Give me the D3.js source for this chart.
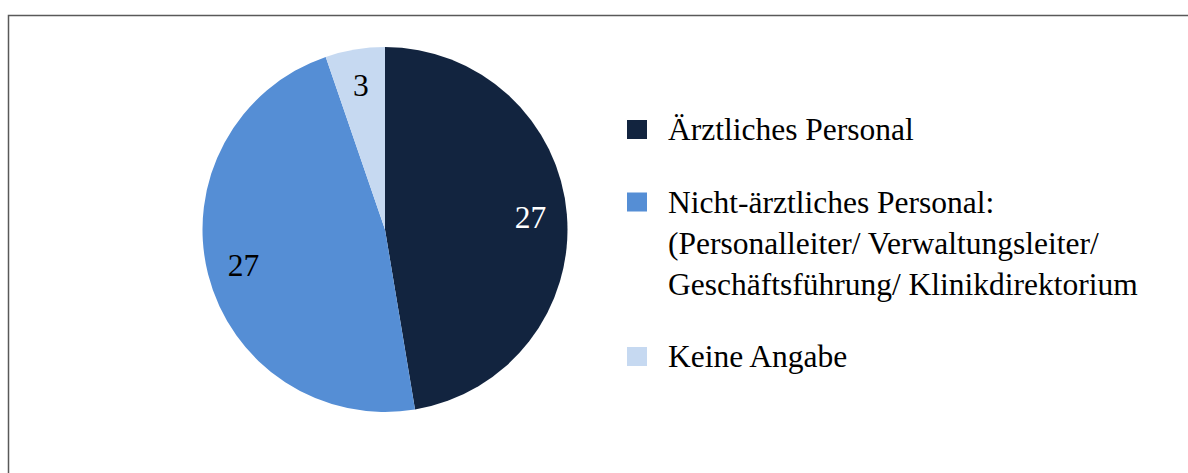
<!DOCTYPE html>
<html>
<head>
<meta charset="utf-8">
<script src="https://cdn.jsdelivr.net/npm/d3@7"></script>
<style>
  html, body { margin: 0; padding: 0; background: #fff; }
  svg { display: block; }
</style>
</head>
<body>
<svg id="chart" width="1188" height="473"></svg>
<script>
// ---- data ----
const categories = ["Ärztliches Personal", "Nicht-ärztliches Personal", "Keine Angabe"];
const values = [27, 27, 3];
const colors = ["#12243F", "#558ED5", "#C6D9F1"];
const labelColors = ["#FFFFFF", "#000000", "#000000"];
const legendLines = [
  ["Ärztliches Personal"],
  ["Nicht-ärztliches Personal:", "(Personalleiter/ Verwaltungsleiter/", "Geschäftsführung/ Klinikdirektorium"],
  ["Keine Angabe"]
];

// ---- layout ----
const W = 1188, H = 473;
const svg = d3.select("#chart");
const font = "'Liberation Serif', 'Times New Roman', serif";
const fontSize = 31.5;

// frame (only left and top edges visible)
svg.append("rect")
  .attr("x", 8.5).attr("y", 15.5)
  .attr("width", 1300).attr("height", 1000)
  .attr("fill", "none").attr("stroke", "#595959").attr("stroke-width", 1.5);

const cx = 385, cy = 229.5, r = 182.5;
const g = svg.append("g").attr("transform", `translate(${cx},${cy})`);

const pie = d3.pie().sort(null).value(d => d)(values);
const arc = d3.arc().innerRadius(0).outerRadius(r);
const labelArc = d3.arc().innerRadius(r * 0.8).outerRadius(r * 0.8);

g.selectAll("path.slice").data(pie).enter().append("path")
  .attr("class", "slice")
  .attr("d", arc)
  .attr("fill", (d, i) => colors[i]);

g.selectAll("text.lbl").data(pie).enter().append("text")
  .attr("class", "lbl")
  .attr("transform", d => `translate(${labelArc.centroid(d)})`)
  .attr("text-anchor", "middle")
  .attr("dy", "0.34em")
  .attr("font-family", font)
  .attr("font-size", fontSize)
  .attr("fill", (d, i) => labelColors[i])
  .text(d => d.data);

// legend
const legX = 627, textX = 668, sw = 20, sh = 19;
const lineH = 41, itemGap = 31.5;
let y = 140;
const leg = svg.append("g");
legendLines.forEach((lines, i) => {
  leg.append("rect")
    .attr("x", legX).attr("y", y - sh - 1)
    .attr("width", sw).attr("height", sh)
    .attr("fill", colors[i]);
  lines.forEach((t, j) => {
    leg.append("text")
      .attr("x", textX).attr("y", y + j * lineH)
      .attr("font-family", font)
      .attr("font-size", fontSize)
      .attr("fill", "#000")
      .text(t);
  });
  y += lines.length * lineH + itemGap;
});
</script>
</body>
</html>
